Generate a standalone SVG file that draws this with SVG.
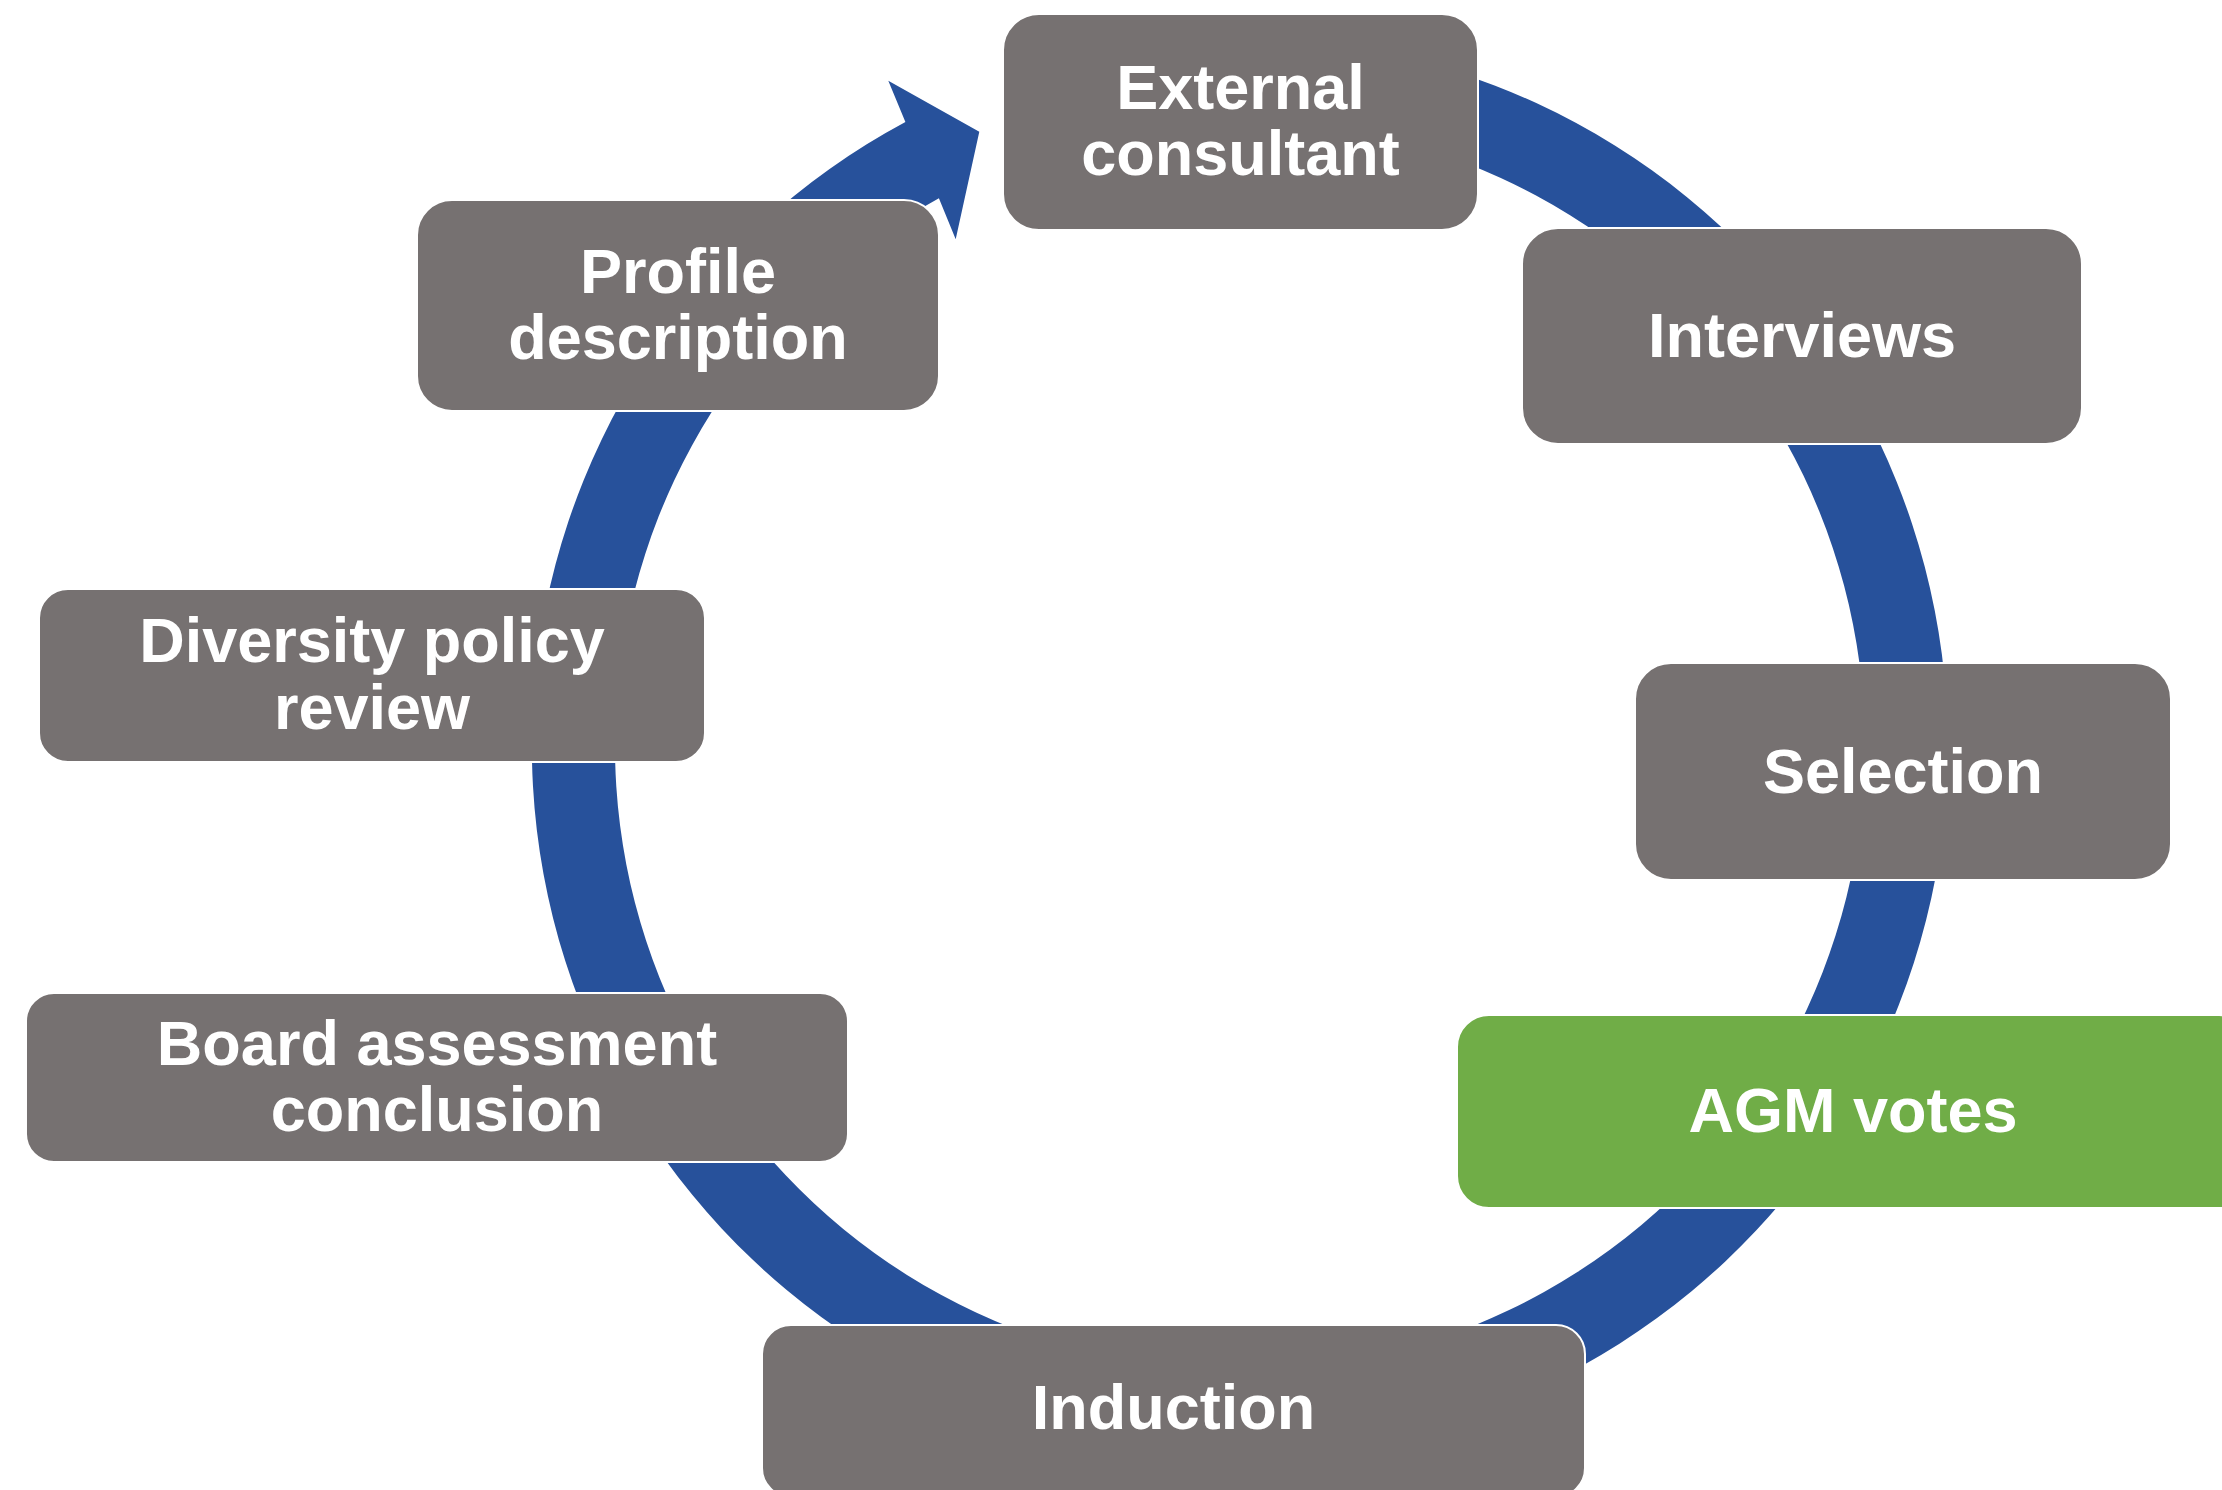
<svg xmlns="http://www.w3.org/2000/svg" width="2222" height="1490" viewBox="0 0 2222 1490">
  <style>
    .box { fill: #767171; stroke: #ffffff; stroke-width: 2; }
    .green { fill: #70AD47; stroke: #ffffff; stroke-width: 2; }
    .lbl { font-family: "Liberation Sans", Arial, sans-serif; font-weight: bold; font-size: 63px; fill: #ffffff; text-anchor: middle; }
    .ring { fill: #27519B; stroke: none; }
  </style>
  <rect x="0" y="0" width="2222" height="1490" fill="#ffffff"/>
  <g id="connectors">
    <path class="ring" d="M 1056.8 62.1 A 708 708 0 1 1 905.4 122.0 L 888.3 80.7 L 979.3 131.7 L 955.7 239.3 L 938.9 198.3 A 625 625 0 1 0 1078.2 142.3 Z"/>
  </g>
  <g id="node-external-consultant">
    <rect class="box" x="1003" y="14" width="475" height="216" rx="36" ry="36"/>
    <text class="lbl" x="1240.5" y="109">External</text>
    <text class="lbl" x="1240.5" y="175">consultant</text>
  </g>
  <g id="node-interviews">
    <rect class="box" x="1522" y="228" width="560" height="216" rx="36" ry="36"/>
    <text class="lbl" x="1802" y="357">Interviews</text>
  </g>
  <g id="node-selection">
    <rect class="box" x="1635" y="663" width="536" height="217" rx="36" ry="36"/>
    <text class="lbl" x="1903" y="793">Selection</text>
  </g>
  <g id="node-agm-votes">
    <rect class="green" x="1457" y="1015" width="794" height="193" rx="32" ry="32"/>
    <text class="lbl" x="1853" y="1132">AGM votes</text>
  </g>
  <g id="node-induction">
    <rect class="box" x="762" y="1325" width="823" height="172" rx="29" ry="29"/>
    <text class="lbl" x="1173.5" y="1429">Induction</text>
  </g>
  <g id="node-board-assessment-conclusion">
    <rect class="box" x="26" y="993" width="822" height="169" rx="28" ry="28"/>
    <text class="lbl" x="437" y="1064.5">Board assessment</text>
    <text class="lbl" x="437" y="1130.5">conclusion</text>
  </g>
  <g id="node-diversity-policy-review">
    <rect class="box" x="39" y="589" width="666" height="173" rx="29" ry="29"/>
    <text class="lbl" x="372" y="662">Diversity policy</text>
    <text class="lbl" x="372" y="728.5">review</text>
  </g>
  <g id="node-profile-description">
    <rect class="box" x="417" y="200" width="522" height="211" rx="35" ry="35"/>
    <text class="lbl" x="678" y="293">Profile</text>
    <text class="lbl" x="678" y="359">description</text>
  </g>
</svg>
